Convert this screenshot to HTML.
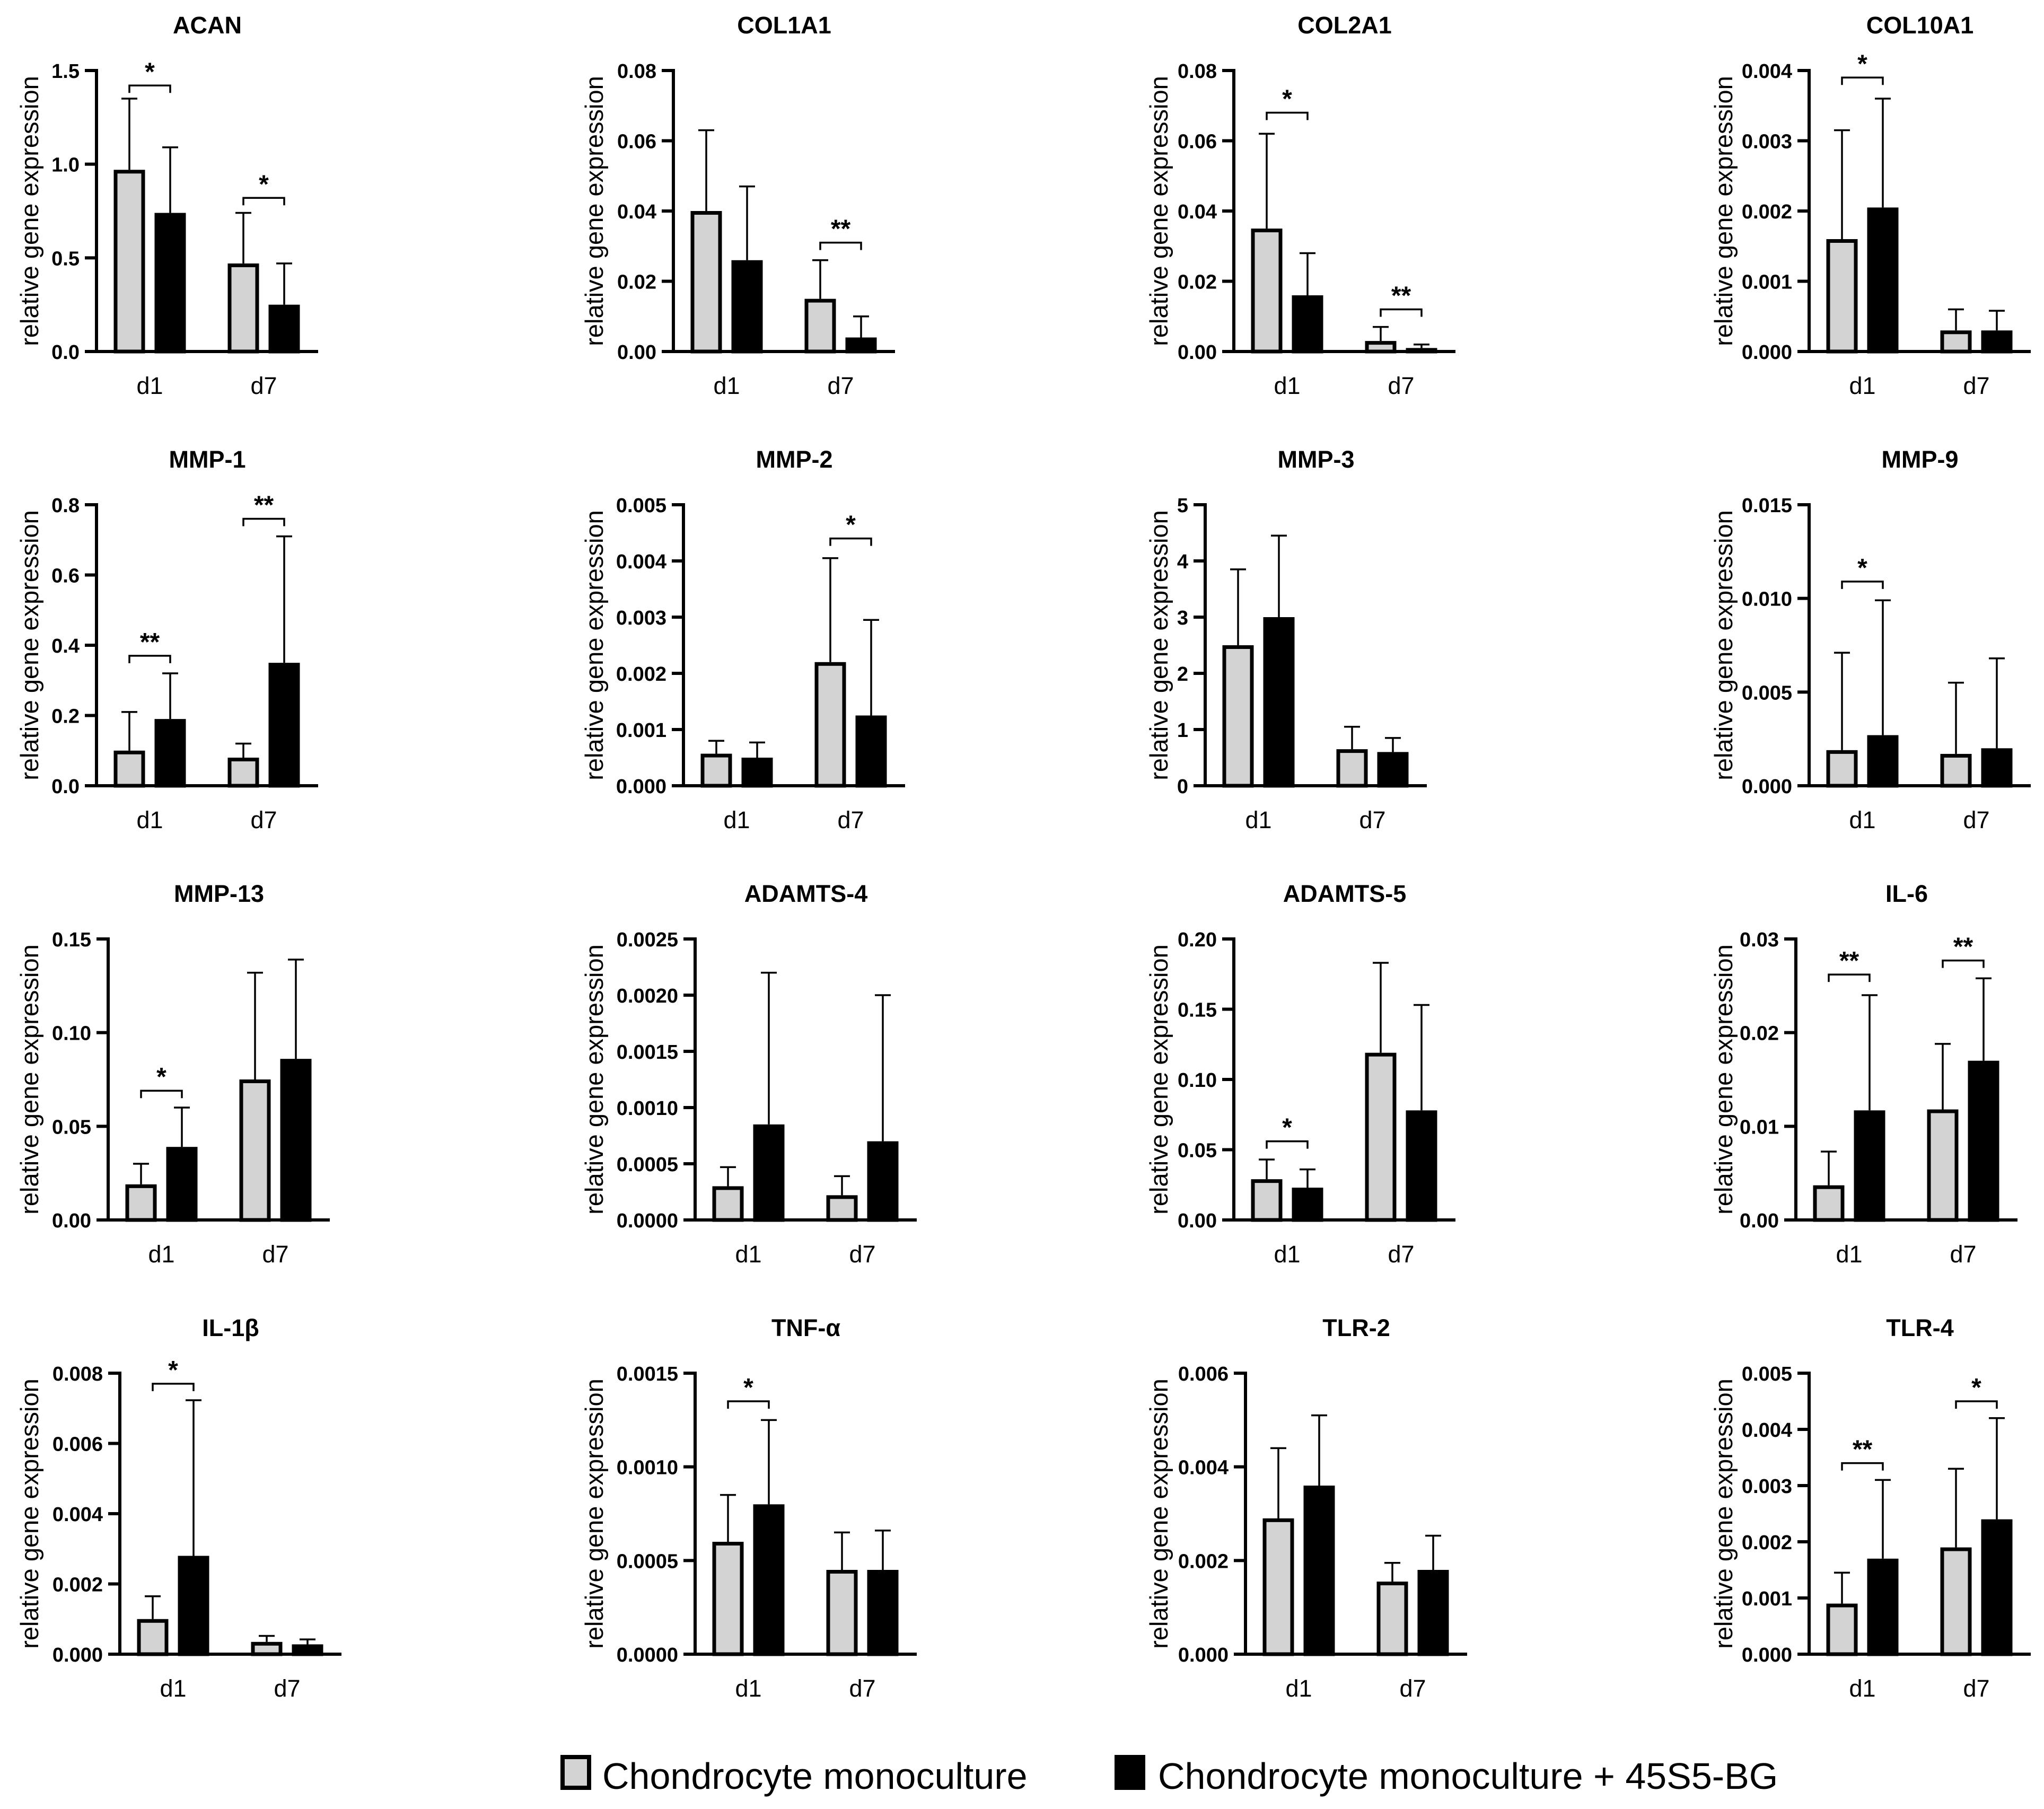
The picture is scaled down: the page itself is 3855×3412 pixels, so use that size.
<!DOCTYPE html>
<html><head><meta charset="utf-8"><style>
html,body{margin:0;padding:0;background:#fff}
svg{display:block}
text{font-family:"Liberation Sans",Arial,sans-serif}
</style></head><body>
<svg id="chart" width="3855" height="3412" viewBox="0 0 3855 3412" xmlns="http://www.w3.org/2000/svg">
<g id="panels"></g>
<g>
<rect x="1061" y="3314" width="50" height="58" fill="#d3d3d3" stroke="#000" stroke-width="8"/>
<text x="1136" y="3374" font-size="70">Chondrocyte monoculture</text>
<rect x="2106" y="3314" width="50" height="58" fill="#000" stroke="#000" stroke-width="8"/>
<text x="2184" y="3374" font-size="70">Chondrocyte monoculture + 45S5-BG</text>
</g>
</svg>
<script>
const titles = ["ACAN","COL1A1","COL2A1","COL10A1","MMP-1","MMP-2","MMP-3","MMP-9","MMP-13","ADAMTS-4","ADAMTS-5","IL-6","IL-1β","TNF-α","TLR-2","TLR-4"];
const yMax = [1.5,0.08,0.08,0.004,0.8,0.005,5,0.015,0.15,0.0025,0.20,0.03,0.008,0.0015,0.006,0.005];
const tickLabels = [
 ["0.0","0.5","1.0","1.5"],
 ["0.00","0.02","0.04","0.06","0.08"],
 ["0.00","0.02","0.04","0.06","0.08"],
 ["0.000","0.001","0.002","0.003","0.004"],
 ["0.0","0.2","0.4","0.6","0.8"],
 ["0.000","0.001","0.002","0.003","0.004","0.005"],
 ["0","1","2","3","4","5"],
 ["0.000","0.005","0.010","0.015"],
 ["0.00","0.05","0.10","0.15"],
 ["0.0000","0.0005","0.0010","0.0015","0.0020","0.0025"],
 ["0.00","0.05","0.10","0.15","0.20"],
 ["0.00","0.01","0.02","0.03"],
 ["0.000","0.002","0.004","0.006","0.008"],
 ["0.0000","0.0005","0.0010","0.0015"],
 ["0.000","0.002","0.004","0.006"],
 ["0.000","0.001","0.002","0.003","0.004","0.005"]
];
const days = ["d1","d7"];
// values order: [d1, d7]
const grayMean = [[0.97,0.47],[0.040,0.015],[0.035,0.003],[0.0016,0.0003],[0.10,0.08],[0.00057,0.0022],[2.5,0.65],[0.0019,0.0017],[0.019,0.075],[0.0003,0.00022],[0.029,0.119],[0.0037,0.0118],[0.001,0.00035],[0.0006,0.00045],[0.0029,0.00155],[0.0009,0.0019]];
const blackMean = [[0.74,0.25],[0.026,0.004],[0.016,0.001],[0.00205,0.0003],[0.19,0.35],[0.0005,0.00125],[3.0,0.6],[0.0027,0.002],[0.039,0.086],[0.00085,0.0007],[0.023,0.078],[0.0117,0.017],[0.0028,0.00028],[0.0008,0.00045],[0.0036,0.0018],[0.0017,0.0024]];
const grayErrTop = [[1.35,0.74],[0.063,0.026],[0.062,0.007],[0.00315,0.0006],[0.21,0.12],[0.0008,0.00405],[3.85,1.05],[0.0071,0.0055],[0.030,0.132],[0.00047,0.00039],[0.043,0.183],[0.0073,0.0188],[0.00165,0.00052],[0.00085,0.00065],[0.0044,0.00195],[0.00145,0.0033]];
const blackErrTop = [[1.09,0.47],[0.047,0.010],[0.028,0.002],[0.0036,0.00058],[0.32,0.71],[0.00077,0.00295],[4.45,0.85],[0.0099,0.0068],[0.060,0.139],[0.0022,0.0020],[0.036,0.153],[0.024,0.0258],[0.00723,0.00042],[0.00125,0.00066],[0.0051,0.00253],[0.0031,0.0042]];
// significance: [label, bracket height] per day, null = none
const sig = [[["*",1.42],["*",0.82]],[null,["**",0.031]],[["*",0.068],["**",0.012]],[["*",0.0039],null],[["**",0.37],["**",0.76]],[null,["*",0.0044]],[null,null],[["*",0.0109],null],[["*",0.069],null],[null,null],[["*",0.056],null],[["**",0.0262],["**",0.0277]],[["*",0.0077],null],[["*",0.00135],null],[null,null],[["**",0.0034],["*",0.0045]]];

// layout (pixel positions of each panel's y-axis line)
const axisLeft = [182,1270,2327,3412, 182,1289,2273,3412, 204,1311,2327,3387, 226,1311,2349,3412];

const NS="http://www.w3.org/2000/svg";
const root=document.getElementById('panels');
function mk(tag,attrs,parent){const e=document.createElementNS(NS,tag);for(const k in attrs)e.setAttribute(k,attrs[k]);parent.appendChild(e);return e;}
const plotH=530, plotW=418;
const barW=59, barOff=[[62,139],[277,354]];
titles.forEach((t,i)=>{
  const c=i%4, r=Math.floor(i/4);
  const ax=axisLeft[i], top=133+r*819, bot=top+plotH;
  const g=mk('g',{},root);
  
  
  const y=v=>bot-v/yMax[i]*plotH;
  const tt=mk('text',{x:ax+plotW/2,y:top-70,'font-size':45,'font-weight':'bold','text-anchor':'middle'},g);
  
  
  tt.textContent=t;
  const yl=mk('text',{x:0,y:0,'font-size':47,'text-anchor':'middle',transform:`translate(${72+c*1065},${(top+bot)/2}) rotate(-90)`},g);
  
  
  yl.textContent='relative gene expression';
  const n=tickLabels[i].length;
  tickLabels[i].forEach((lab,k)=>{
    const v=yMax[i]*k/(n-1), yy=y(v);
    const tk=mk('line',{x1:ax-22,x2:ax,y1:yy,y2:yy,stroke:'#000','stroke-width':6},g);
    
    
    const tl=mk('text',{x:ax-32,y:yy+14,'font-size':38,'font-weight':'bold','text-anchor':'end'},g);
    
    
    tl.textContent=lab;
  });
  [0,1].forEach(d=>{
    const gx=ax+barOff[d][0], bx=ax+barOff[d][1];
    const series=[[gx,grayMean[i][d],grayErrTop[i][d],'#d3d3d3','gray'],[bx,blackMean[i][d],blackErrTop[i][d],'#000','black']];
    series.forEach(s=>{
      const [cx,m,e,fill,nm]=s;
      const el=mk('line',{x1:cx,x2:cx,y1:y(m),y2:y(e),stroke:'#000','stroke-width':3.5},g);
      
      
      const cap=mk('line',{x1:cx-15,x2:cx+15,y1:y(e),y2:y(e),stroke:'#000','stroke-width':3.5},g);
      
      
      const hh=Math.max(bot-y(m),0);
      const b=mk('rect',{x:cx-barW/2+3.5,y:bot-hh+3.5,width:barW-7,height:Math.max(hh-3.5,0),fill:fill,stroke:'#000','stroke-width':7},g);
      
      
    });
    const dl=mk('text',{x:(gx+bx)/2,y:bot+80,'font-size':45,'text-anchor':'middle'},g);
    
    
    dl.textContent=days[d];
    const sg=sig[i][d];
    if(sg){
      const yy=y(sg[1]);
      const br=mk('path',{d:`M${gx} ${yy+14} V${yy} H${bx} V${yy+14}`,fill:'none',stroke:'#000','stroke-width':3.5},g);
      
      
      const st=mk('text',{x:(gx+bx)/2,y:yy-10,'font-size':48,'font-weight':'bold','text-anchor':'middle'},g);
      
      
      st.textContent=sg[0];
    }
  });
  const axl=mk('path',{d:`M${ax} ${top-3} V${bot} H${ax+plotW}`,fill:'none',stroke:'#000','stroke-width':6},g);
  
  
});
</script>
</body></html>
